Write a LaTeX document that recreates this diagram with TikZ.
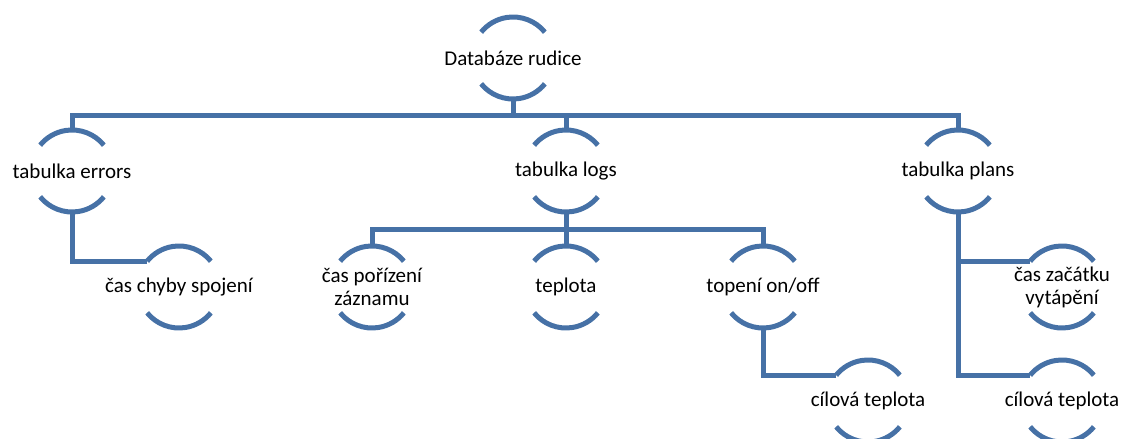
\documentclass[tikz,border=0pt]{standalone}
\usepackage{fontspec}
\setmainfont{Carlito}
\usetikzlibrary{calc}
\definecolor{lineblue}{RGB}{70,113,166}
\begin{document}
\begin{tikzpicture}[x=1pt,y=1pt,
  lbl/.style={inner sep=0pt,align=center,font=\fontsize{21}{23}\selectfont},
  arcline/.style={draw=lineblue,line width=5pt},
  conn/.style={draw=lineblue,line width=5pt}]
\useasboundingbox (0,0) rectangle (1122,439);
\node[lbl] (root) at (513,381) {Databáze rudice};
\node[lbl] (errors) at (72,268) {tabulka errors};
\node[lbl] (logs) at (566,268) {tabulka logs};
\node[lbl] (plans) at (958,268) {tabulka plans};
\node[lbl] (chyby) at (179,152) {čas chyby spojení};
\node[lbl] (porizeni) at (372,152) {čas pořízení\\záznamu};
\node[lbl] (teplota) at (566,152) {teplota};
\node[lbl] (topeni) at (763,152) {topení on/off};
\node[lbl] (cilova1) at (868,38) {cílová teplota};
\node[lbl] (zacatek) at (1062,152) {čas začátku\\vytápění};
\node[lbl] (cilova2) at (1062,38) {cílová teplota};
\foreach \n in {root,errors,logs,plans,chyby,porizeni,teplota,topeni,cilova1,zacatek,cilova2}{
  \draw[arcline] ($(\n)+(39:41)$) arc[start angle=39,end angle=141,radius=41];
  \draw[arcline] ($(\n)+(-141:41)$) arc[start angle=-141,end angle=-39,radius=41];
}
% top level bus
\coordinate (bus) at ($(root)+(0,-58)$);
\draw[conn] ($(root)+(0,-41)$) -- (bus);
\draw[conn] ($(errors)+(0,41)$) -- (errors |- bus) -- (plans |- bus) -- ($(plans)+(0,41)$);
\draw[conn] ($(logs)+(0,41)$) -- (logs |- bus);
% logs bus
\coordinate (lbus) at ($(logs)+(0,-59)$);
\draw[conn] ($(logs)+(0,-41)$) -- (lbus);
\draw[conn] ($(porizeni)+(0,41)$) -- (porizeni |- lbus) -- (topeni |- lbus) -- ($(topeni)+(0,41)$);
\draw[conn] ($(teplota)+(0,41)$) -- (teplota |- lbus);
% errors child
\draw[conn] ($(errors)+(0,-41)$) |- ($(chyby)+(141:41)$);
% topeni child
\draw[conn] ($(topeni)+(0,-41)$) |- ($(cilova1)+(141:41)$);
% plans children
\draw[conn] ($(plans)+(0,-41)$) |- ($(zacatek)+(141:41)$);
\draw[conn] ($(plans)+(0,-41)$) |- ($(cilova2)+(141:41)$);
\end{tikzpicture}
\end{document}
